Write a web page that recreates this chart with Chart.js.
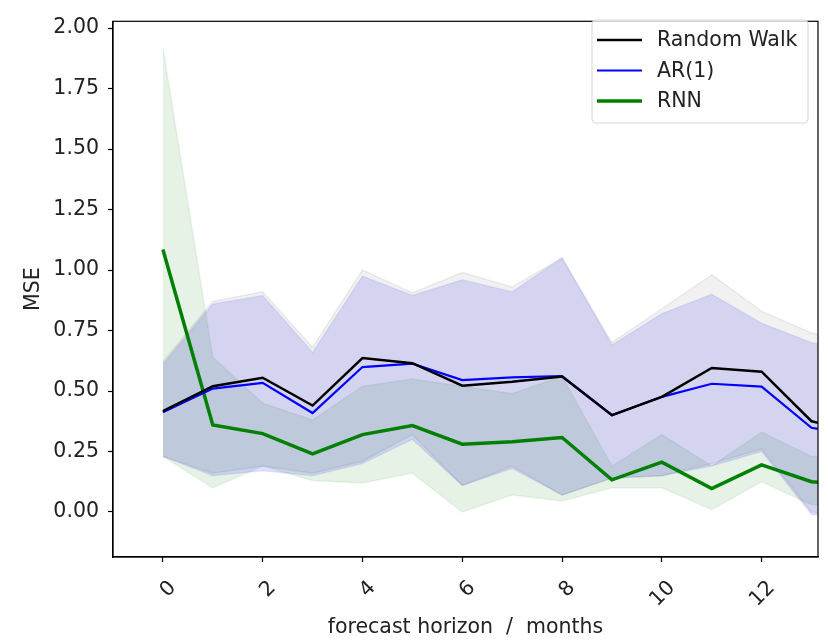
<!DOCTYPE html>
<html>
<head>
<meta charset="utf-8">
<script src="https://cdn.jsdelivr.net/npm/chart.js@4"></script>
<style>
  html, body { margin: 0; padding: 0; background: #fff; }
  #c { display: block; }
</style>
</head>
<body>
<canvas id="c" width="828" height="640"></canvas>
<script>
// ---- data ----
const horizons = [0, 1, 2, 3, 4, 5, 6, 7, 8, 9, 10, 11, 12, 13, 14];
const rwMean  = [0.417, 0.52, 0.555, 0.44, 0.636, 0.615, 0.522, 0.538, 0.56, 0.40, 0.476, 0.595, 0.58, 0.375, 0.33];
const rwLow   = [0.23, 0.16, 0.19, 0.16, 0.21, 0.32, 0.11, 0.19, 0.07, 0.14, 0.15, 0.20, 0.26, 0.00, -0.02];
const rwHigh  = [0.62, 0.87, 0.91, 0.68, 1.00, 0.905, 0.99, 0.93, 1.05, 0.70, 0.84, 0.98, 0.83, 0.74, 0.70];
const arMean  = [0.412, 0.51, 0.534, 0.409, 0.599, 0.613, 0.545, 0.556, 0.562, 0.40, 0.476, 0.53, 0.518, 0.348, 0.31];
const arLow   = [0.23, 0.15, 0.17, 0.15, 0.20, 0.30, 0.11, 0.18, 0.07, 0.14, 0.15, 0.19, 0.25, -0.01, -0.03];
const arHigh  = [0.61, 0.86, 0.895, 0.66, 0.975, 0.895, 0.96, 0.91, 1.05, 0.69, 0.82, 0.90, 0.78, 0.70, 0.66];
const rnnMean = [1.085, 0.36, 0.324, 0.24, 0.32, 0.357, 0.28, 0.29, 0.308, 0.133, 0.206, 0.097, 0.195, 0.125, 0.11];
const rnnLow  = [0.23, 0.10, 0.19, 0.13, 0.12, 0.16, 0.00, 0.07, 0.045, 0.10, 0.10, 0.01, 0.125, 0.03, 0.02];
const rnnHigh = [1.92, 0.64, 0.45, 0.38, 0.52, 0.55, 0.52, 0.49, 0.56, 0.19, 0.32, 0.19, 0.33, 0.23, 0.22];

const seriesNames = ['Random Walk', 'AR(1)', 'RNN'];
const xTickValues = [0, 2, 4, 6, 8, 10, 12];
const yTickValues = [0, 0.25, 0.5, 0.75, 1.0, 1.25, 1.5, 1.75, 2.0];
const xTitle = 'forecast horizon  /  months';
const yTitle = 'MSE';

// ---- styles ----
const lineColors = ['#000000', '#0000ff', '#008000'];
const fillColors = ['rgba(0,0,0,0.055)', 'rgba(0,0,255,0.12)', 'rgba(0,128,0,0.1)'];
const edgeColors = ['rgba(0,0,0,0.07)', 'rgba(0,0,255,0.08)', 'rgba(0,128,0,0.08)'];
const lineWidths = [2.5, 2.2, 3.5];
const FONT = 'DejaVu Sans';
const FS = 20.5;

const pts = arr => horizons.map((x, i) => ({ x: x, y: arr[i] }));

function lineDs(i, arr) {
  return {
    label: seriesNames[i], data: pts(arr), borderColor: lineColors[i],
    borderWidth: lineWidths[i], pointRadius: 0, fill: false, tension: 0,
    order: 0, clip: 0
  };
}
function bandDs(i, arr, isUpper) {
  return {
    label: seriesNames[i] + (isUpper ? ' upper' : ' lower'), data: pts(arr),
    borderColor: edgeColors[i], borderWidth: 1.5, pointRadius: 0, tension: 0,
    backgroundColor: fillColors[i], fill: isUpper ? '-1' : false,
    order: 10, clip: 0
  };
}

const datasets = [
  lineDs(0, rwMean), lineDs(1, arMean), lineDs(2, rnnMean),
  bandDs(0, rwLow, false), bandDs(0, rwHigh, true),
  bandDs(1, arLow, false), bandDs(1, arHigh, true),
  bandDs(2, rnnLow, false), bandDs(2, rnnHigh, true)
];

const framePlugin = {
  id: 'frame',
  afterDraw(chart) {
    const { ctx, chartArea: a } = chart;
    ctx.save();
    ctx.strokeStyle = '#000';
    ctx.lineWidth = 1.2;
    ctx.strokeRect(a.left, a.top, a.right - a.left, a.bottom - a.top);
    ctx.restore();
  }
};

const legendPlugin = {
  id: 'mplLegend',
  afterDraw(chart) {
    const { ctx } = chart;
    const x0 = 592, y0 = 20, w = 216, h = 103, r = 4;
    ctx.save();
    ctx.beginPath();
    ctx.moveTo(x0 + r, y0);
    ctx.lineTo(x0 + w - r, y0);
    ctx.arcTo(x0 + w, y0, x0 + w, y0 + r, r);
    ctx.lineTo(x0 + w, y0 + h - r);
    ctx.arcTo(x0 + w, y0 + h, x0 + w - r, y0 + h, r);
    ctx.lineTo(x0 + r, y0 + h);
    ctx.arcTo(x0, y0 + h, x0, y0 + h - r, r);
    ctx.lineTo(x0, y0 + r);
    ctx.arcTo(x0, y0, x0 + r, y0, r);
    ctx.closePath();
    ctx.fillStyle = 'rgba(255,255,255,0.8)';
    ctx.fill();
    ctx.strokeStyle = '#d6d6d6';
    ctx.lineWidth = 1;
    ctx.stroke();
    ctx.font = FS + 'px "' + FONT + '"';
    ctx.textBaseline = 'middle';
    ctx.fillStyle = '#222';
    seriesNames.forEach((name, i) => {
      const y = 40 + i * 30.5;
      ctx.beginPath();
      ctx.strokeStyle = lineColors[i];
      ctx.lineWidth = lineWidths[i];
      ctx.moveTo(597, y);
      ctx.lineTo(642, y);
      ctx.stroke();
      ctx.fillText(name, 657, y + 1);
    });
    ctx.restore();
  }
};

new Chart(document.getElementById('c'), {
  type: 'line',
  data: { datasets: datasets },
  options: {
    responsive: false,
    animation: false,
    layout: { padding: { top: 10, right: 10, left: 0, bottom: 0 } },
    plugins: { legend: { display: false }, tooltip: { enabled: false }, filler: { propagate: false } },
    scales: {
      x: {
        type: 'linear', min: -1, max: 13.13,
        afterFit(s) { s.height = 83; },
        afterBuildTicks(s) { s.ticks = xTickValues.map(v => ({ value: v })); },
        grid: { drawOnChartArea: false, drawTicks: true, tickLength: 5, tickColor: '#000', tickWidth: 1.2 },
        border: { display: true, color: '#000', width: 1.2 },
        ticks: {
          minRotation: 45, maxRotation: 45, autoSkip: false, padding: 14, labelOffset: 10,
          color: '#222', font: { family: FONT, size: FS },
          callback: v => String(v)
        },
        title: { display: true, text: xTitle, color: '#222', font: { family: FONT, size: FS }, padding: { top: 0, bottom: 0 } }
      },
      y: {
        type: 'linear', min: -0.186, max: 2.028,
        afterFit(s) { s.width = 113; },
        afterBuildTicks(s) { s.ticks = yTickValues.map(v => ({ value: v })); },
        grid: { drawOnChartArea: false, drawTicks: true, tickLength: 5, tickColor: '#000', tickWidth: 1.2 },
        border: { display: true, color: '#000', width: 1.2 },
        ticks: {
          padding: 9, color: '#222', font: { family: FONT, size: FS },
          callback: v => Number(v).toFixed(2)
        },
        title: { display: true, text: yTitle, color: '#222', font: { family: FONT, size: FS }, padding: { top: 21, bottom: 0 } }
      }
    }
  },
  plugins: [framePlugin, legendPlugin]
});
</script>
</body>
</html>
